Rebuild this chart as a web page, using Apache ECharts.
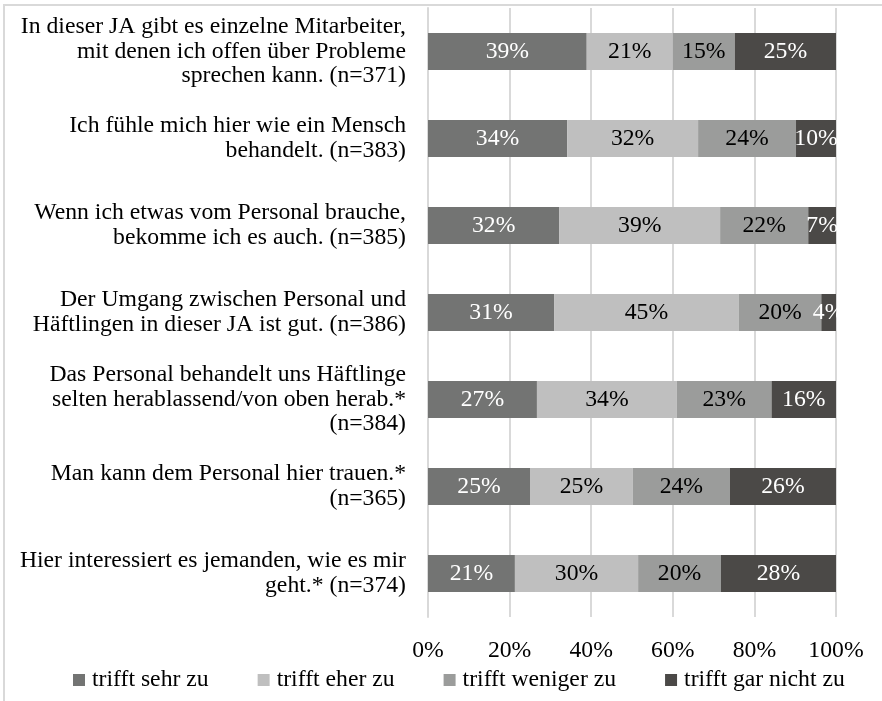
<!DOCTYPE html>
<html>
<head>
<meta charset="utf-8">
<script src="https://cdn.jsdelivr.net/npm/echarts@6/dist/echarts.min.js"></script>
<style>
html,body{margin:0;padding:0;background:#fff;}
#chart{width:882px;height:701px;}
</style>
</head>
<body>
<div id="chart"></div>
<script>
var categories = [
  "In dieser JA gibt es einzelne Mitarbeiter,\nmit denen ich offen über Probleme\nsprechen kann. (n=371)",
  "Ich fühle mich hier wie ein Mensch\nbehandelt. (n=383)",
  "Wenn ich etwas vom Personal brauche,\nbekomme ich es auch. (n=385)",
  "Der Umgang zwischen Personal und\nHäftlingen in dieser JA ist gut. (n=386)",
  "Das Personal behandelt uns Häftlinge\nselten herablassend/von oben herab.*\n(n=384)",
  "Man kann dem Personal hier trauen.*\n(n=365)",
  "Hier interessiert es jemanden, wie es mir\ngeht.* (n=374)"
];
var seriesNames = ["trifft sehr zu", "trifft eher zu", "trifft weniger zu", "trifft gar nicht zu"];
var sehrZu    = [38.9, 34.1, 32.2, 30.9, 26.7, 25.0, 21.3];
var eherZu    = [21.1, 32.1, 39.4, 45.3, 34.3, 25.2, 30.2];
var wenigerZu = [15.2, 24.0, 21.6, 20.2, 23.2, 23.8, 20.3];
var garNicht  = [24.8,  9.8,  6.8,  3.6, 15.8, 26.0, 28.2];
var xTicks = [0, 20, 40, 60, 80, 100];

var colors = ["#737473", "#bfbfbf", "#9b9c9b", "#4b4947"];
var labelColors = ["#ffffff", "#000000", "#000000", "#ffffff"];
var FONT = "Liberation Serif";
var FS = 23.7;

var chart = echarts.init(document.getElementById('chart'));
var dataSets = [sehrZu, eherZu, wenigerZu, garNicht];
var series = dataSets.map(function (d, i) {
  return {
    name: seriesNames[i],
    type: 'bar',
    stack: 'total',
    barWidth: 37,
    data: d,
    itemStyle: { color: colors[i] },
    label: {
      show: true,
      position: 'inside',
      color: labelColors[i],
      fontFamily: FONT,
      fontSize: FS,
      formatter: function (p) { return Math.round(p.value) + '%'; }
    }
  };
});

chart.setOption({
  animation: false,
  backgroundColor: '#ffffff',
  textStyle: { fontFamily: FONT },
  graphic: [{
    type: 'rect',
    shape: { x: 4, y: 5, width: 1000, height: 1000 },
    style: { fill: 'none', stroke: '#d9d9d9', lineWidth: 2 },
    silent: true,
    z: -10
  }],
  grid: { left: 428, right: 46, top: 8, bottom: 84, containLabel: false },
  legend: {
    bottom: 9,
    left: 73,
    padding: 0,
    itemWidth: 12,
    itemHeight: 12,
    itemGap: 49,
    icon: 'rect',
    textStyle: { fontFamily: FONT, fontSize: FS, color: '#000', padding: [0, 0, 0, 2] },
    data: seriesNames
  },
  xAxis: {
    type: 'value',
    min: 0,
    max: 100,
    interval: 20,
    axisLine: { show: false },
    axisTick: { show: false },
    splitLine: { lineStyle: { color: '#d9d9d9', width: 2 } },
    axisLabel: {
      margin: 22,
      fontFamily: FONT,
      fontSize: FS,
      color: '#000',
      formatter: function (v) { return xTicks.indexOf(v) >= 0 ? v + '%' : ''; }
    }
  },
  yAxis: {
    type: 'category',
    inverse: true,
    data: categories,
    axisLine: { show: true, lineStyle: { color: '#d9d9d9', width: 2 } },
    axisTick: { show: false },
    axisLabel: {
      margin: 22,
      fontFamily: FONT,
      fontSize: FS,
      lineHeight: 24.5,
      color: '#000',
      align: 'right'
    }
  },
  series: series
});
</script>
</body>
</html>
